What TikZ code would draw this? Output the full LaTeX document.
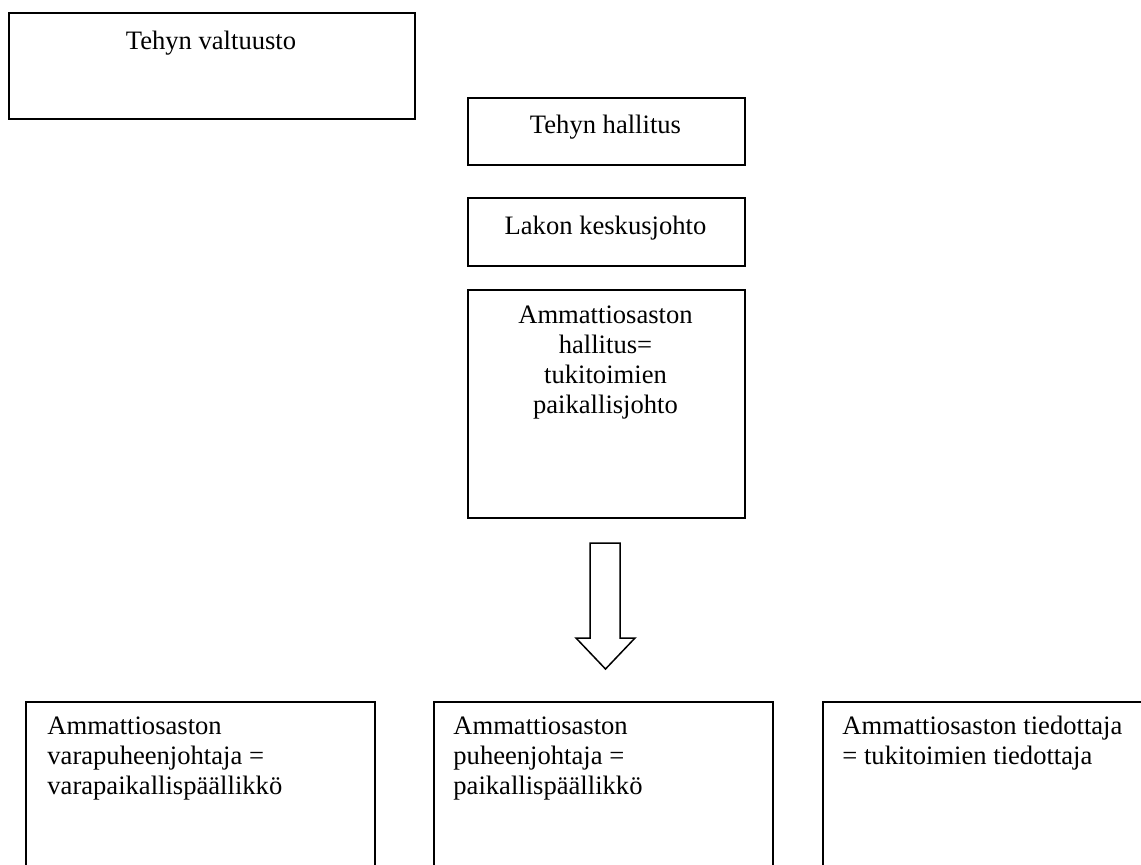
\documentclass[tikz,border=0pt]{standalone}
\usepackage{fontspec}
\setmainfont{Liberation Serif}
\usetikzlibrary{positioning}
\tikzset{
  orgbox/.style={draw, line width=1pt, rectangle, anchor=north west, inner sep=0pt},
  boxtext/.style={inner sep=0pt, font=\fontsize{13.3pt}{15pt}\selectfont},
}
\begin{document}
\begin{tikzpicture}[x=0.5pt, y=-0.5pt]
  \clip (0,0) rectangle (1141,864);
  \fill[white] (0,0) rectangle (1141,864);
  % top boxes
  \node [orgbox, minimum width=203pt, minimum height=53pt] (valtuusto) at (8,12) {};
  \node [boxtext, anchor=base] (valtuustotxt) at (211,49) {Tehyn valtuusto};
  \node [orgbox, minimum width=138.5pt, minimum height=33.5pt] (hallitus) at (467,97) {};
  \node [boxtext, anchor=base] (hallitustxt) at (605.5,133) {Tehyn hallitus};
  \node [orgbox, minimum width=138.5pt, minimum height=34pt] (keskusjohto) at (467,197) {};
  \node [boxtext, anchor=base] (keskusjohtotxt) at (605.5,234) {Lakon keskusjohto};
  \node [orgbox, minimum width=138.5pt, minimum height=114pt] (paikallisjohto) at (467,289) {};
  \node [boxtext, anchor=north, align=center] (paikallisjohtotxt) at (605.5,305)
    {Ammattiosaston\\hallitus=\\tukitoimien\\paikallisjohto};
  % block arrow
  \draw [line width=0.75pt, line join=miter]
    (590,543) -- (620,543) -- (620,638) -- (635,638) -- (605.5,669)
    -- (576,638) -- (590,638) -- cycle;
  % bottom boxes
  \node [orgbox, minimum width=174.5pt, minimum height=90pt] (varapj) at (25,701) {};
  \node [boxtext, anchor=north west, align=left] (varapjtxt) at (47,716)
    {Ammattiosaston\\varapuheenjohtaja =\\varapaikallispäällikkö};
  \node [orgbox, minimum width=169.5pt, minimum height=90pt] (pj) at (433,701) {};
  \node [boxtext, anchor=north west, align=left] (pjtxt) at (453,716)
    {Ammattiosaston\\puheenjohtaja =\\paikallispäällikkö};
  \node [orgbox, minimum width=170pt, minimum height=90pt] (tiedottaja) at (822,701) {};
  \node [boxtext, anchor=north west, align=left] (tiedottajatxt) at (842,716)
    {Ammattiosaston tiedottaja\\= tukitoimien tiedottaja};
\end{tikzpicture}
\end{document}
